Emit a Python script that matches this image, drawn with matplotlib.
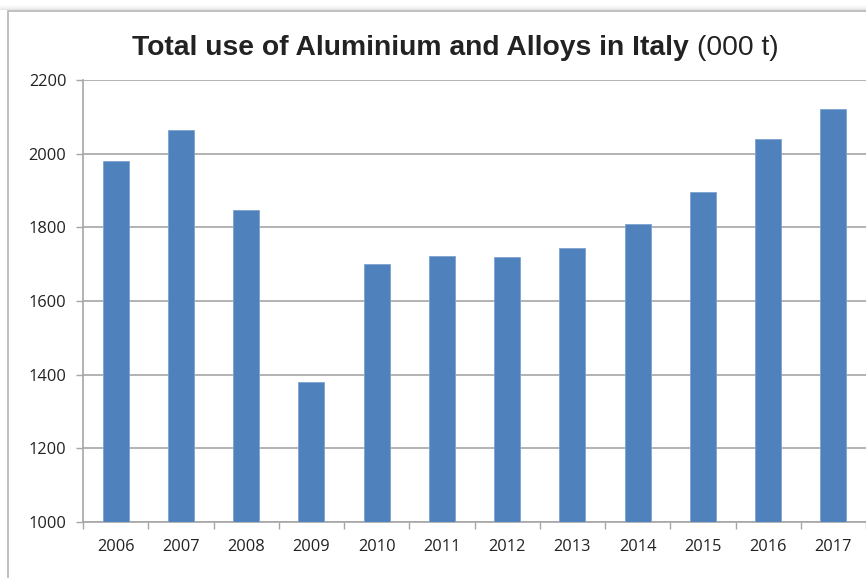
import matplotlib.pyplot as plt
from matplotlib.patches import Rectangle

years = ["2006", "2007", "2008", "2009", "2010", "2011",
         "2012", "2013", "2014", "2015", "2016", "2017"]
use_kt = [1980, 2065, 1846, 1380, 1700, 1722, 1720, 1743, 1810, 1897, 2040, 2120]
y_ticks = [1000, 1200, 1400, 1600, 1800, 2000, 2200]

W, H = 866, 578
BAR = "#4f81bd"
GRID = "#a6a6a6"
TEXT = "#222222"

fig = plt.figure(figsize=(W / 100, H / 100), dpi=100)
fig.patch.set_facecolor("white")

# outer chart frame with a soft shadow along the top
for i, a in enumerate([0.03, 0.05, 0.08, 0.12, 0.18]):
    fig.patches.append(Rectangle((0, 1 - (6 + i) / H), 1, 1 / H, transform=fig.transFigure,
                                 facecolor="#777777", alpha=a, edgecolor="none", zorder=-2))
fig.patches.append(Rectangle((8 / W, -0.05), 1.2, 1 - 11 / H + 0.05, transform=fig.transFigure,
                             facecolor="white", edgecolor="#b5b5b5", linewidth=1.2, zorder=-1))

ax = fig.add_axes([83 / W, (H - 522) / H, (W - 83) / W, (522 - 80) / H])
ax.set_zorder(2)
ax.patch.set_alpha(0)
x = range(len(years))
ax.bar(x, use_kt, width=0.4, color=BAR, edgecolor="#7ea3d1", linewidth=0.6, zorder=3)

ax.set_xlim(-0.5, len(years) - 0.5)
ax.set_ylim(1000, 2200)
ax.set_yticks(y_ticks)
ax.set_xticks(list(x))
ax.set_xticklabels(years)
ax.set_xticks([i - 0.5 for i in range(len(years) + 1)], minor=True)

ax.grid(axis="y", color=GRID, linewidth=1.2, zorder=0)
ax.set_axisbelow(True)
for side in ["top", "right"]:
    ax.spines[side].set_visible(False)
for side in ["left", "bottom"]:
    ax.spines[side].set_color(GRID)
    ax.spines[side].set_linewidth(1.2)

ax.tick_params(axis="x", which="major", length=0, pad=12.5, labelsize=11.8, labelcolor=TEXT)
ax.tick_params(axis="x", which="minor", length=5, width=1.0, color=GRID)
ax.tick_params(axis="y", length=5, width=1.0, color=GRID, pad=7, labelsize=11.8, labelcolor=TEXT)
for lbl in ax.get_xticklabels() + ax.get_yticklabels():
    lbl.set_fontfamily("Open Sans")

# two-part title: bold name plus units in regular weight
fig.text(689 / W, 1 - 55 / H, "Total use of Aluminium and Alloys in Italy",
         ha="right", va="baseline", fontsize=20.3, fontweight="bold",
         family="Liberation Sans", color=TEXT)
fig.text(697 / W, 1 - 55 / H, "(000 t)", ha="left", va="baseline",
         fontsize=20.3, family="Liberation Sans", color=TEXT)

fig.savefig("out.png", dpi=100)
